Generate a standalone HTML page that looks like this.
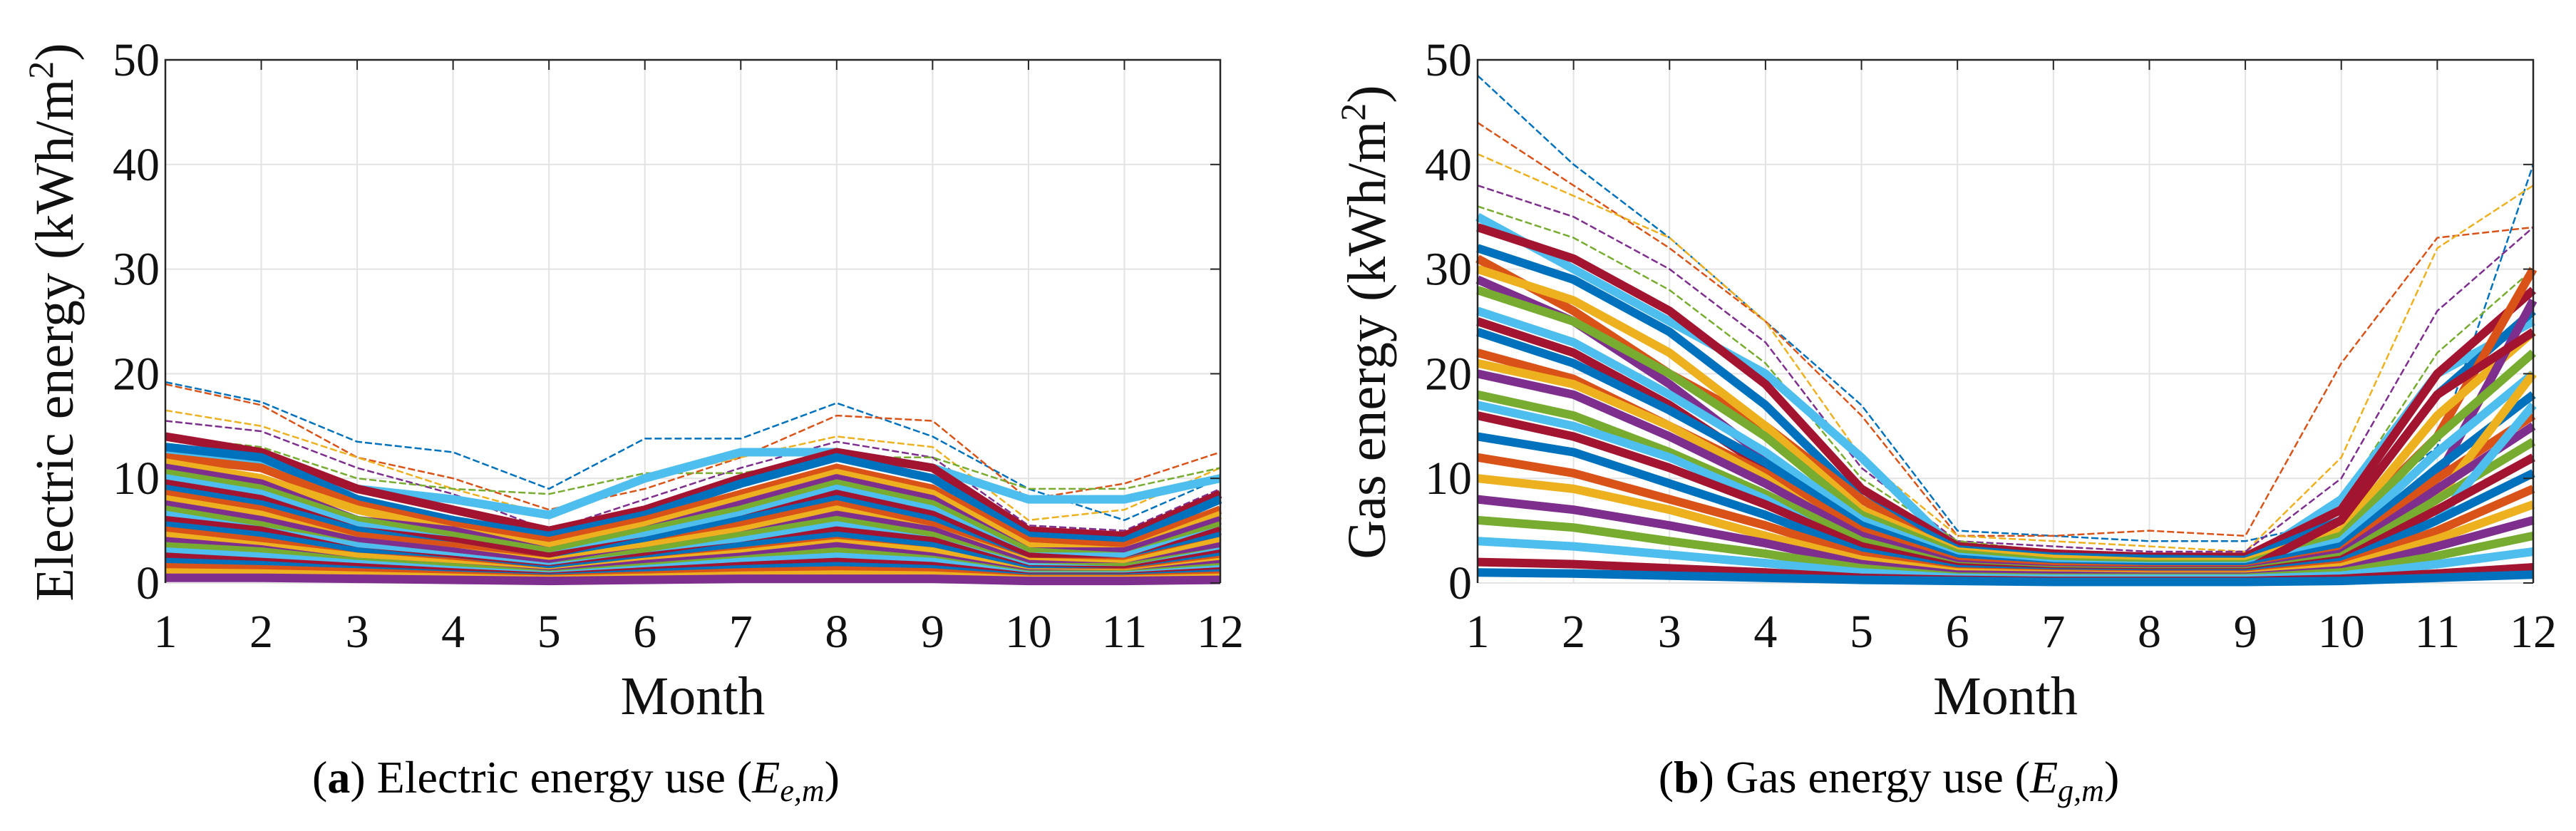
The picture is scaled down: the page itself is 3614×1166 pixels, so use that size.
<!DOCTYPE html>
<html><head><meta charset="utf-8"><style>
html,body{margin:0;padding:0;background:#fff;}
svg{display:block;font-family:"Liberation Serif",serif;}
</style></head><body>
<svg id="fig" width="3614" height="1166" viewBox="0 0 3614 1166">
<g id="pa"></g>
<g id="pb"></g>
<text x="808" y="1112" font-size="64" text-anchor="middle">(<tspan font-weight="bold">a</tspan>) Electric energy use (<tspan font-style="italic">E</tspan><tspan font-style="italic" font-size="44" dy="12">e,m</tspan><tspan dy="-12">)</tspan></text>
<text x="2650" y="1112" font-size="64" text-anchor="middle">(<tspan font-weight="bold">b</tspan>) Gas energy use (<tspan font-style="italic">E</tspan><tspan font-style="italic" font-size="44" dy="12">g,m</tspan><tspan dy="-12">)</tspan></text>
</svg>
<script>
const months=[1,2,3,4,5,6,7,8,9,10,11,12];
const yTicks=[0,10,20,30,40,50];
const elecSeries=[
[19.2,17.3,13.5,12.5,9,13.8,13.8,17.2,14,9,6,10],
[19,17,12,10,7,9,12,16,15.5,8,9.5,12.5],
[16.5,15,12,9,6.5,10,12,14,13,6,7,11],
[15.5,14.5,11,8.5,5,8,11,13.5,12,5.5,5,9],
[14,13,10,9,8.5,10.5,10.5,12,12,9,9,11],
[12.5,11.5,9,8,6.5,10,12.5,12.5,11,8,8,10],
[14,12.5,9,7,5,7,10,12.5,11,5,4.5,8.5],
[13,12,8,6,4.5,6.5,9.5,12,10,4.5,4,8],
[12,11,7.5,5.5,4,6,8.5,11,9,4,3.5,7],
[11.5,10,7,5,3.5,5.5,8,10.5,8.5,3.5,3,6.5],
[11,9.5,6,5,3,5,7.5,10,8,3,3,6],
[10.5,9,6,4.5,3,5,7,9.5,7.5,3,2.5,5.5],
[10,8.5,5.5,4,2.5,4.5,6.5,9,7,2.5,2.5,5],
[9.5,8,5,4,2.5,4,6,8.5,6.5,2.5,2,5],
[9,7.5,5,3.5,2,4,6,8,6,2,2,4.5],
[8.5,7,4.5,3.5,2,3.5,5.5,7.5,5.5,2,2,4],
[8,6.5,4,3,2,3.5,5,7,5,2,1.8,4],
[7.5,6,4,3,1.8,3,4.5,6.5,5,1.8,1.5,3.5],
[7,5.5,3.5,2.5,1.5,3,4.5,6,4.5,1.5,1.5,3],
[6.5,5,3.5,2.5,1.5,2.5,4,5.5,4,1.5,1.2,3],
[6,5,3,2.2,1.3,2.5,3.5,5,4,1.3,1.2,2.8],
[5.5,4.5,3,2,1.2,2.2,3.5,4.5,3.5,1.2,1,2.5],
[5,4,2.5,2,1,2,3,4,3,1,1,2.2],
[4.5,3.5,2.5,1.8,1,2,2.8,3.8,3,1,0.9,2],
[4,3.2,2,1.5,0.9,1.8,2.5,3.5,2.5,0.9,0.8,1.8],
[3.5,3,2,1.5,0.8,1.5,2.2,3,2.2,0.8,0.8,1.5],
[3,2.5,1.8,1.2,0.7,1.3,2,2.5,2,0.7,0.7,1.3],
[2.5,2,1.5,1,0.6,1.1,1.6,2,1.6,0.6,0.6,1.1],
[2,1.7,1.2,0.8,0.5,0.9,1.3,1.6,1.3,0.5,0.5,0.9],
[1.5,1.3,1,0.7,0.4,0.7,1,1.2,1,0.4,0.4,0.7],
[1,0.9,0.7,0.5,0.3,0.5,0.7,0.8,0.7,0.3,0.3,0.5],
[0.5,0.5,0.4,0.3,0.2,0.3,0.4,0.4,0.4,0.2,0.2,0.3]
];
const gasSeries=[
[48.5,40,33,25,17,5,4.5,4,4,6,13,40],
[44,38,32,25,16,4.5,4.5,5,4.5,21,33,34],
[41,37,33,25,12,4.5,4,3.5,3,12,32,38],
[38,35,30,23,11,4,3.5,3,3,10,26,34],
[36,33,28,21,10,4,3,2.8,2.5,8,22,30],
[35,30,25,20,12,3,2,2,2,8,20,25],
[34,31,26,19,9,3.5,2.8,2.5,2.5,7,20,28],
[32,29,24,17,8,3.2,2.5,2.3,2.2,6,18,26],
[31,26,20,15,8,2.5,2,2,2,5,14,30],
[30,27,22,15,7,3,2.3,2,2,5,16,24],
[29,25,19,12,5,2,1.5,1.5,1.5,3,10,27],
[28,25,20,14,6.5,2.8,2,1.8,1.8,4.5,14,22],
[26,23,18,12.5,6,2.5,1.8,1.6,1.6,4,12.5,20],
[25,22,17,11,4,1.8,1.2,1.2,1.2,6,18,24],
[24,21,16.5,11.5,5.5,2.3,1.6,1.5,1.5,3.5,11,18],
[22,19.5,15,10.5,5,2,1.5,1.3,1.3,3,10,16],
[21,19,15,10,4,1.5,1,1,1,2,8,20],
[20,18,14,9.5,4.5,1.8,1.3,1.2,1.2,2.8,9,15],
[18,16,12.5,8.5,4,1.6,1.2,1.1,1.1,2.5,8,13.5],
[17,15,12,8,3,1.2,0.9,0.9,0.9,1.5,6,17],
[16,14,11,7.5,3.5,1.5,1.1,1,1,2.2,7,12],
[14,12.5,9.5,6.5,3,1.3,1,0.9,0.9,2,6,10.5],
[12,10.5,8,5.5,2.6,1.1,0.9,0.8,0.8,1.7,5,9],
[10,9,7,4.5,2.2,1,0.8,0.7,0.7,1.5,4.2,7.5],
[8,7,5.5,3.8,1.8,0.8,0.7,0.6,0.6,1.2,3.5,6],
[6,5.3,4,2.8,1.4,0.6,0.5,0.5,0.5,1,2.6,4.5],
[4,3.5,2.7,1.9,1,0.5,0.4,0.4,0.4,0.7,1.8,3],
[2,1.8,1.4,1,0.5,0.3,0.2,0.2,0.2,0.4,0.9,1.5],
[1,0.9,0.7,0.5,0.3,0.2,0.1,0.1,0.1,0.2,0.5,0.8]
];
const colors=["#0072BD","#D95319","#EDB120","#7E2F8E","#77AC30","#4DBEEE","#A2142F"];
const NS="http://www.w3.org/2000/svg";
function mk(parent,tag,attrs){const e=document.createElementNS(NS,tag);for(const k in attrs)e.setAttribute(k,attrs[k]);parent.appendChild(e);return e;}
function draw(g,L,R,T,B,series,title,prefix){
  const xs=m=>L+(m-1)/11*(R-L);
  const ys=v=>B-v/50*(B-T);
  months.forEach(m=>{const l=mk(g,'line',{x1:xs(m),x2:xs(m),y1:T,y2:B,stroke:'#e3e3e3','stroke-width':2});
    
    });
  yTicks.forEach(v=>{const l=mk(g,'line',{x1:L,x2:R,y1:ys(v),y2:ys(v),stroke:'#e3e3e3','stroke-width':2});
    
    });
  series.forEach((s,i)=>{
    const d=s.map((v,j)=>(j?'L':'M')+xs(months[j]).toFixed(1)+','+ys(v).toFixed(1)).join('');
    const top=i<5;
    const p=mk(g,'path',{d:d,fill:'none',stroke:colors[i%7],'stroke-width':top?2.5:12,'stroke-dasharray':top?'10,4':'none','stroke-linejoin':'round'});
    
    
  });
  const ax=mk(g,'path',{d:`M${L},${B}L${L},${T}L${R},${T}L${R},${B}`,fill:'none',stroke:'#262626','stroke-width':2.5});
  
  
  months.forEach(m=>{
    const t=mk(g,'line',{x1:xs(m),x2:xs(m),y1:T,y2:T+14,stroke:'#262626','stroke-width':2});
    
    
    const tx=mk(g,'text',{x:xs(m),y:B+90,'font-size':66,'text-anchor':'middle',fill:'#111'});
    tx.textContent=m;
    
    
  });
  yTicks.forEach(v=>{
    const t=mk(g,'line',{x1:R,x2:R-14,y1:ys(v),y2:ys(v),stroke:'#262626','stroke-width':2});
    
    
    const tx=mk(g,'text',{x:L-8,y:ys(v)+22,'font-size':66,'text-anchor':'end',fill:'#111'});
    tx.textContent=v;
    
    
  });
  const xt=mk(g,'text',{x:(L+R)/2,y:B+184,'font-size':76,'text-anchor':'middle',fill:'#111'});
  xt.textContent='Month';
  
  
  const yt=mk(g,'text',{x:0,y:0,'font-size':76,'text-anchor':'middle',fill:'#111',transform:`translate(${L-130},452) rotate(-90)`});
  yt.textContent=title+' (kWh/m';
  const sup=mk(yt,'tspan',{'font-size':50,dy:-28});sup.textContent='2';
  const cl=mk(yt,'tspan',{dy:28});cl.textContent=')';
  
  
}
draw(document.getElementById('pa'),232,1712,84,818,elecSeries,'Electric energy','electric');
draw(document.getElementById('pb'),2073,3554,84,818,gasSeries,'Gas energy','gas');
</script>
</body></html>
